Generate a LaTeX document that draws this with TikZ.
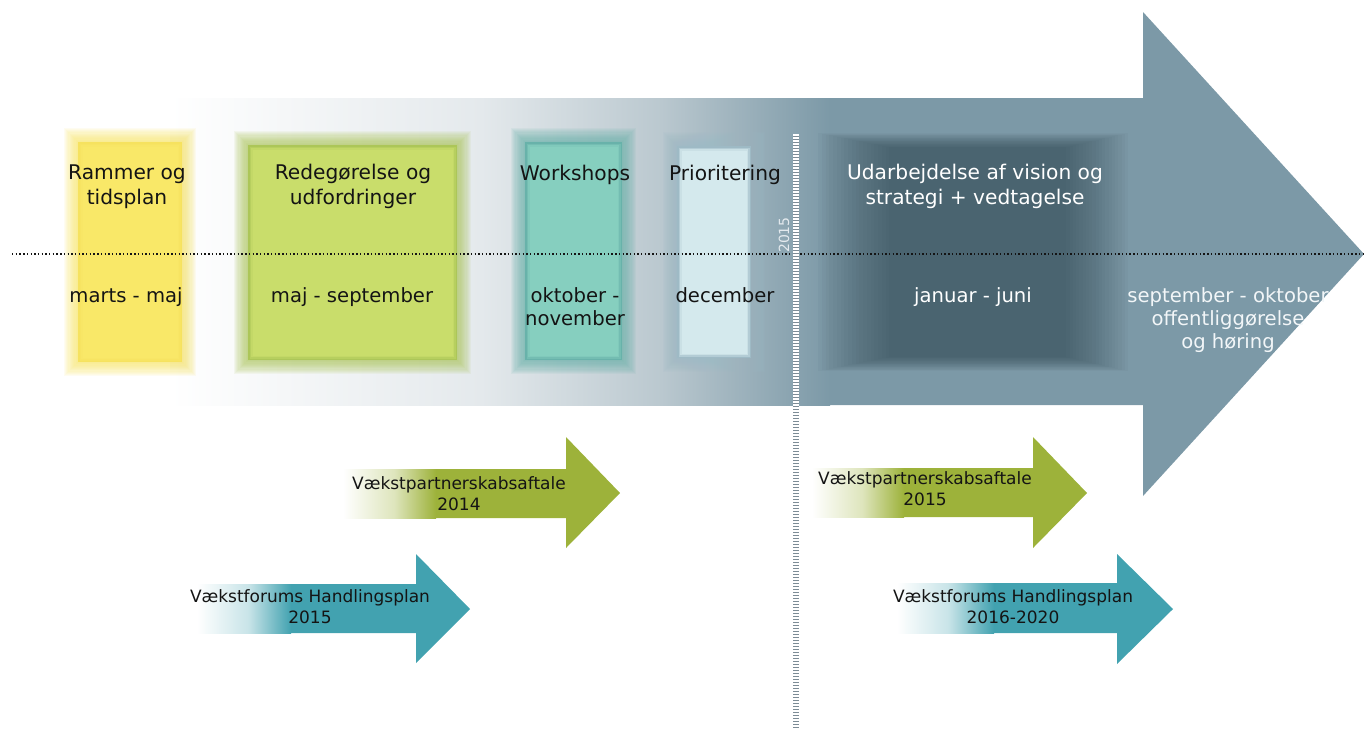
\documentclass[tikz,border=0pt]{standalone}
\usepackage{fontspec}
\setmainfont{DejaVu Sans}
\definecolor{arrowc}{RGB}{124,153,167}
\definecolor{bgA}{RGB}{228,233,236}
\definecolor{bgB}{RGB}{186,200,207}
\definecolor{darkc}{RGB}{40,62,72}
\definecolor{yel}{RGB}{249,232,104}
\definecolor{yelE}{RGB}{246,226,95}
\definecolor{grn}{RGB}{201,221,107}
\definecolor{grnE}{RGB}{172,198,88}
\definecolor{tea}{RGB}{134,207,191}
\definecolor{teaE}{RGB}{104,178,170}
\definecolor{pri}{RGB}{212,233,237}
\definecolor{priE}{RGB}{158,186,197}
\definecolor{olive}{RGB}{157,178,58}
\definecolor{petrol}{RGB}{66,162,176}
\definecolor{txtw}{RGB}{242,246,248}
\definecolor{txtk}{RGB}{20,20,20}
\definecolor{stripe}{RGB}{125,140,150}
\definecolor{yeartxt}{RGB}{228,234,238}
\newcommand\softrect[6]{%
  \foreach \i in {1,...,12}{%
    \fill[#6, opacity=0.085] ({#1-1.2*\i},{#2-1.2*\i}) rectangle ({#3+1.2*\i},{#4+1.2*\i});}
  \fill[#6] (#1,#2) rectangle (#3,#4);
  \fill[#5, opacity=0.4] ({#1+1.5},{#2+1.5}) rectangle ({#3-1.5},{#4-1.5});
  \fill[#5, opacity=0.7] ({#1+3},{#2+3}) rectangle ({#3-3},{#4-3});
  \fill[#5] ({#1+4.5},{#2+4.5}) rectangle ({#3-4.5},{#4-4.5});}
\tikzset{
  title/.style={font=\fontsize{20.2}{24.5}\selectfont, align=center, inner sep=0pt, anchor=base, text=txtk},
  datelbl/.style={font=\fontsize{19.6}{23}\selectfont, align=center, inner sep=0pt, anchor=base, text=txtk},
  small/.style={font=\fontsize{17}{20.5}\selectfont, align=center, inner sep=0pt, anchor=base, text=txtk},
}
\begin{document}
\begin{tikzpicture}[x=1pt,y=-1pt]
\useasboundingbox (0,0) rectangle (1364,729);
% big arrow
\fill[arrowc] (800,98) -- (1143,98) -- (1143,12) -- (1364,254) -- (1143,496) -- (1143,405) -- (800,405) -- cycle;
\fill[left color=white, right color=bgA] (170,98) rectangle (482,405);
\fill[left color=bgA, right color=bgB] (481,98) rectangle (662,405);
\fill[left color=bgB, right color=arrowc] (661,98) rectangle (830,405);
% dark box
\foreach \i in {0,...,19}{
  \fill[darkc, opacity=0.037] ({818+3.75*\i},{133+0.75*\i}) rectangle ({1128-3.25*\i},{371-0.75*\i});}
% phase boxes
\softrect{78}{142}{182}{362}{yel}{yelE}
\softrect{248}{145}{457}{360}{grn}{grnE}
\softrect{525}{142}{622}{360}{tea}{teaE}
\softrect{677}{146}{751}{358}{pri}{priE}
% dotted time line
\coordinate (dl) at (12,254);
\coordinate (dr) at (1364,254);
\draw[line width=1.5pt, dash pattern=on 1.4pt off 2.3pt, txtk] (dl) -- (dr);
% year line
\coordinate (vt) at (795.5,134);
\coordinate (vb) at (795.5,729);
\draw[line width=6pt, stripe] (vt) -- (vb);
\draw[line width=6pt, white, dash pattern=on 1.6pt off 1.4pt] (vt) -- (vb);
\node[rotate=90, font=\fontsize{14}{16}\selectfont, text=yeartxt, inner sep=0pt] (yr) at (784,235) {2015};
% titles
\node[title] (t1) at (127,204) {Rammer og\\tidsplan};
\node[title] (t2) at (353,204) {Redegørelse og\\udfordringer};
\node[title] (t3) at (575,180) {Workshops};
\node[title] (t4) at (725,180) {Prioritering};
\node[title, text=white] (t5) at (975,204) {Udarbejdelse af vision og\\strategi + vedtagelse};
% dates
\node[datelbl] (d1) at (126,302) {marts - maj};
\node[datelbl] (d2) at (352,302) {maj - september};
\node[datelbl] (d3) at (575,325) {oktober -\\november};
\node[datelbl] (d4) at (725,302) {december};
\node[datelbl, text=white] (d5) at (973,302) {januar - juni};
\node[datelbl, text=txtw] (d6) at (1228,348) {september - oktober\\offentliggørelse\\og høring};
% small arrows
\fill[olive] (430,469) -- (566,469) -- (566,437) -- (620,493) -- (566,548) -- (566,518) -- (430,518) -- cycle;
\fill[left color=white, right color=olive!35] (343,469) rectangle (396,518);
\fill[left color=olive!35, right color=olive] (395,469) rectangle (436,518);
\node[small] (a1) at (459,510) {Vækstpartnerskabsaftale\\2014};

\fill[petrol] (285,584) -- (416,584) -- (416,554) -- (470,609) -- (416,663) -- (416,633) -- (285,633) -- cycle;
\fill[left color=white, right color=petrol!30] (197,584) rectangle (250,633);
\fill[left color=petrol!30, right color=petrol] (249,584) rectangle (291,633);
\node[small] (a2) at (310,623) {Vækstforums Handlingsplan\\2015};

\fill[olive] (898,468) -- (1033,468) -- (1033,437) -- (1087,493) -- (1033,548) -- (1033,517) -- (898,517) -- cycle;
\fill[left color=white, right color=olive!35] (812,468) rectangle (864,517);
\fill[left color=olive!35, right color=olive] (863,468) rectangle (904,517);
\node[small] (a3) at (925,505) {Vækstpartnerskabsaftale\\2015};

\fill[petrol] (988,583) -- (1117,583) -- (1117,554) -- (1173,609) -- (1117,664) -- (1117,633) -- (988,633) -- cycle;
\fill[left color=white, right color=petrol!30] (897,583) rectangle (950,633);
\fill[left color=petrol!30, right color=petrol] (949,583) rectangle (994,633);
\node[small] (a4) at (1013,623) {Vækstforums Handlingsplan\\2016-2020};
\end{tikzpicture}
\end{document}
